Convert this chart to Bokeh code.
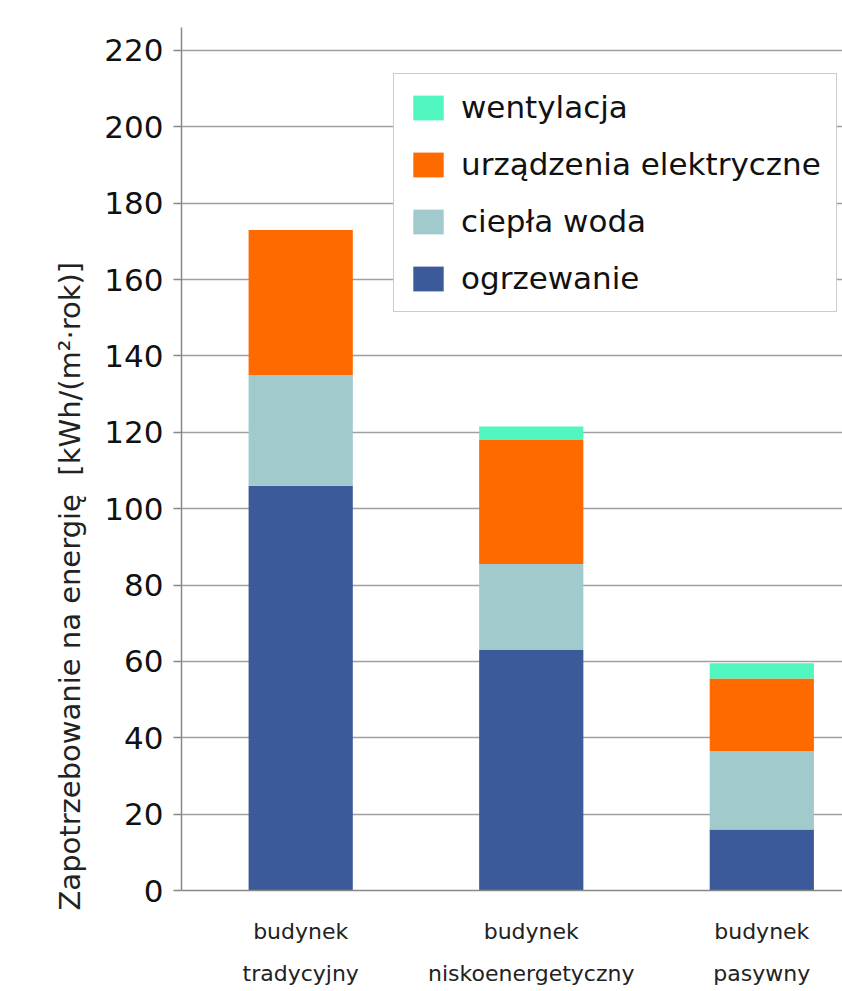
from bokeh.plotting import figure
from bokeh.models import Range1d, FixedTicker, Legend, LegendItem, Title, ColumnDataSource
from bokeh.embed import file_html
from bokeh.resources import INLINE

# ---- data ----
categories = ["budynek\ntradycyjny", "budynek\nniskoenergetyczny", "budynek\npasywny"]
ogrzewanie = [106, 63, 16]
ciepla_woda = [29, 22.5, 20.5]
urzadzenia = [38, 32.5, 19]
wentylacja = [0, 3.5, 4]
series_keys = ["ogrzewanie", "ciepla_woda", "urzadzenia", "wentylacja"]
series_names = ["ogrzewanie", "ciepła woda", "urządzenia elektryczne", "wentylacja"]
colors = ["#3C5A9A", "#A0CACC", "#FF6A00", "#50F5C0"]
y_ticks = list(range(0, 221, 20))
y_title = "Zapotrzebowanie na energię\u00a0\u00a0[kWh/(m²·rok)]"

FONT = "DejaVu Sans"
xs = list(range(len(categories)))
src = ColumnDataSource(dict(x=xs, ogrzewanie=ogrzewanie, ciepla_woda=ciepla_woda,
                            urzadzenia=urzadzenia, wentylacja=wentylacja))

p = figure(width=842, height=991, output_backend="svg", toolbar_location=None,
           x_range=Range1d(-0.517, 2.35), y_range=Range1d(0, 226),
           min_border_left=181, min_border_right=0, min_border_top=27, min_border_bottom=101)
p.outline_line_color = None
p.background_fill_color = "white"

rs = p.vbar_stack(series_keys, x="x", width=0.452, color=colors, line_color=None, source=src)

# axes
p.xgrid.grid_line_color = None
p.ygrid.grid_line_color = "#a0a0a0"
p.ygrid.grid_line_width = 1.5
p.ygrid.ticker = FixedTicker(ticks=y_ticks)

ya = p.yaxis[0]
ya.ticker = FixedTicker(ticks=y_ticks)
ya.axis_line_color = "#888888"
ya.axis_line_width = 1.5
ya.major_tick_line_color = "#888888"
ya.major_tick_line_width = 1.5
ya.major_tick_out = 8
ya.major_tick_in = 0
ya.minor_tick_line_color = None
ya.major_label_text_font = FONT
ya.major_label_text_font_size = "31px"
ya.major_label_text_color = "#111111"
ya.major_label_standoff = 10

xa = p.xaxis[0]
xa.ticker = FixedTicker(ticks=xs)
xa.major_label_overrides = {i: c for i, c in zip(xs, categories)}
xa.axis_line_color = "#888888"
xa.axis_line_width = 1.5
xa.major_tick_line_color = None
xa.minor_tick_line_color = None
xa.major_label_text_font = FONT
xa.major_label_text_font_size = "22px"
xa.major_label_text_line_height = 1.7
xa.major_label_text_color = "#222222"
xa.major_label_standoff = 22

# y title, shifted towards the bottom like the original
t = Title(text=y_title, align="left", offset=-20, text_font=FONT, text_font_size="29px",
          text_font_style="normal", text_color="#222222", standoff=30)
p.add_layout(t, "left")

# legend (reverse order, top = wentylacja)
items = [LegendItem(label=n, renderers=[r]) for n, r in zip(series_names, rs)][::-1]
leg = Legend(items=items, location=(212, 578), orientation="vertical")
leg.label_text_font = FONT
leg.label_text_font_size = "31px"
leg.label_text_color = "#111111"
leg.glyph_width = 38
leg.glyph_height = 31
leg.label_height = 31
leg.label_standoff = 14
leg.padding = 15
leg.spacing = 21
leg.margin = 0
leg.border_line_color = "#999999"
leg.border_line_width = 1.5
leg.background_fill_color = "white"
leg.background_fill_alpha = 1.0
p.add_layout(leg)

open("out.html", "w").write(file_html(p, INLINE))
